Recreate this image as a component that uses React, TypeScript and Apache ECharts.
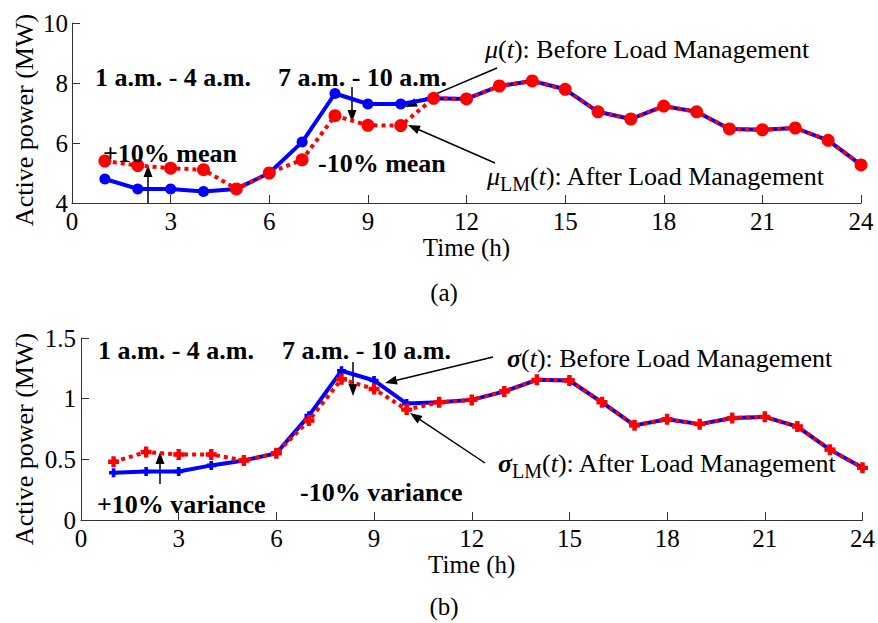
import React, { useEffect, useRef } from "react";
import * as echarts from "echarts";

const hours = [1, 2, 3, 4, 5, 6, 7, 8, 9, 10, 11, 12, 13, 14, 15, 16, 17, 18, 19, 20, 21, 22, 23, 24];
const muBefore = [4.8, 4.47, 4.47, 4.38, 4.47, 5.0, 6.03, 7.65, 7.3, 7.3, 7.49, 7.47, 7.9, 8.07, 7.79, 7.04, 6.8, 7.23, 7.04, 6.47, 6.44, 6.5, 6.09, 5.27];
const muAfter = [5.4, 5.25, 5.16, 5.11, 4.47, 5.0, 5.44, 6.91, 6.59, 6.58, 7.49, 7.47, 7.9, 8.07, 7.79, 7.04, 6.8, 7.23, 7.04, 6.47, 6.44, 6.5, 6.09, 5.27];
const sigmaBefore = [0.39, 0.4, 0.4, 0.45, 0.49, 0.55, 0.86, 1.23, 1.15, 0.96, 0.97, 0.99, 1.06, 1.155, 1.15, 0.97, 0.78, 0.83, 0.79, 0.84, 0.85, 0.77, 0.58, 0.43];
const sigmaAfter = [0.48, 0.56, 0.54, 0.54, 0.49, 0.55, 0.82, 1.16, 1.08, 0.91, 0.97, 0.99, 1.06, 1.155, 1.15, 0.97, 0.78, 0.83, 0.79, 0.84, 0.85, 0.77, 0.58, 0.43];

const xTitle = "Time (h)";
const yTitle = "Active power (MW)";

const FONT = "Liberation Serif";
const PLUS = "path://M3,0H7V3H10V7H7V10H3V7H0V3H3Z";

function pairs(vals: number[]) {
  return hours.map((h, i) => [h, vals[i]]);
}

function arrow(x1: number, y1: number, x2: number, y2: number) {
  const len = Math.hypot(x2 - x1, y2 - y1);
  const ux = (x2 - x1) / len;
  const uy = (y2 - y1) / len;
  const hl = 12;
  const hw = 4.5;
  const bx = x2 - ux * hl;
  const by = y2 - uy * hl;
  return {
    type: "group",
    z: 100,
    children: [
      {
        type: "line",
        shape: { x1, y1, x2: bx, y2: by },
        style: { stroke: "#000", lineWidth: 1.5 },
      },
      {
        type: "polygon",
        shape: {
          points: [
            [x2, y2],
            [bx - uy * hw, by + ux * hw],
            [bx + uy * hw, by - ux * hw],
          ],
        },
        style: { fill: "#000" },
      },
    ],
  };
}

function boldText(text: string, x: number, y: number) {
  return {
    type: "text",
    x,
    y,
    z: 100,
    style: {
      text,
      fontFamily: FONT,
      fontSize: 26,
      fontWeight: "bold",
      fill: "#000",
      align: "left",
      verticalAlign: "middle",
    },
  };
}

function richText(text: string, x: number, y: number, symBold: boolean) {
  const base = { fontFamily: FONT, fontSize: 26, fill: "#000", color: "#000" };
  return {
    type: "text",
    x,
    y,
    z: 100,
    style: {
      text,
      fontFamily: FONT,
      fontSize: 26,
      fill: "#000",
      align: "left",
      verticalAlign: "middle",
      rich: {
        n: { ...base },
        s: { ...base, fontStyle: "italic", fontWeight: symBold ? "bold" : "normal" },
        i: { ...base, fontStyle: "italic" },
        sub: { ...base, fontSize: 20, padding: [16, 0, 0, 0] },
      },
    },
  };
}

function axisCommon() {
  return {
    axisLine: { show: true, lineStyle: { color: "#333", width: 1 } },
    axisTick: { show: true, inside: true, length: 8, lineStyle: { color: "#333" } },
    splitLine: { show: false },
    axisLabel: { color: "#000", fontFamily: FONT, fontSize: 25 },
  };
}

export default function App() {
  const ref = useRef<HTMLDivElement>(null);
  useEffect(() => {
    if (!ref.current) return;
    const chart = echarts.init(ref.current, null, { renderer: "svg" });
    const option: any = {
      animation: false,
      backgroundColor: "#fff",
      textStyle: { fontFamily: FONT },
      grid: [
        { left: 72, top: 23, width: 789, height: 180 },
        { left: 81, top: 338, width: 783, height: 182 },
      ],
      xAxis: [
        {
          gridIndex: 0,
          type: "value",
          min: 0,
          max: 24,
          interval: 3,
          ...axisCommon(),
          axisLabel: { ...axisCommon().axisLabel, margin: 6 },
          name: xTitle,
          nameLocation: "middle",
          nameGap: 32,
          nameTextStyle: { color: "#000", fontFamily: FONT, fontSize: 25 },
        },
        {
          gridIndex: 1,
          type: "value",
          min: 0,
          max: 24,
          interval: 3,
          ...axisCommon(),
          axisLabel: { ...axisCommon().axisLabel, margin: 6 },
          name: xTitle,
          nameLocation: "middle",
          nameGap: 29,
          nameTextStyle: { color: "#000", fontFamily: FONT, fontSize: 25 },
        },
      ],
      yAxis: [
        {
          gridIndex: 0,
          type: "value",
          min: 4,
          max: 10,
          interval: 2,
          ...axisCommon(),
          axisLabel: { ...axisCommon().axisLabel, margin: 4 },
        },
        {
          gridIndex: 1,
          type: "value",
          min: 0,
          max: 1.5,
          interval: 0.5,
          ...axisCommon(),
          axisLabel: { ...axisCommon().axisLabel, margin: 5 },
        },
      ],
      series: [
        {
          name: "μ(t): Before Load Management",
          type: "line",
          xAxisIndex: 0,
          yAxisIndex: 0,
          data: pairs(muBefore),
          lineStyle: { color: "#0000ff", width: 4 },
          itemStyle: { color: "#0000ff" },
          symbol: "circle",
          symbolSize: 11,
          z: 2,
        },
        {
          name: "μLM(t): After Load Management",
          type: "line",
          xAxisIndex: 0,
          yAxisIndex: 0,
          data: pairs(muAfter),
          lineStyle: { color: "#ff0000", width: 4, type: [4, 4], cap: "butt" },
          itemStyle: { color: "#ff0000" },
          symbol: "circle",
          symbolSize: 13,
          z: 3,
        },
        {
          name: "σ(t): Before Load Management",
          type: "line",
          xAxisIndex: 1,
          yAxisIndex: 1,
          data: pairs(sigmaBefore),
          lineStyle: { color: "#0000ff", width: 4 },
          itemStyle: { color: "#0000ff" },
          symbol: PLUS,
          symbolSize: 9,
          z: 2,
        },
        {
          name: "σLM(t): After Load Management",
          type: "line",
          xAxisIndex: 1,
          yAxisIndex: 1,
          data: pairs(sigmaAfter),
          lineStyle: { color: "#ff0000", width: 4, type: [4, 4], cap: "butt" },
          itemStyle: { color: "#ff0000" },
          symbol: PLUS,
          symbolSize: 11,
          z: 3,
        },
      ],
      graphic: [
        {
          type: "text",
          x: 24,
          y: 120,
          rotation: Math.PI / 2,
          style: {
            text: yTitle,
            fontFamily: FONT,
            fontSize: 26,
            fill: "#000",
            align: "center",
            verticalAlign: "middle",
          },
        },
        {
          type: "text",
          x: 24,
          y: 439,
          rotation: Math.PI / 2,
          style: {
            text: yTitle,
            fontFamily: FONT,
            fontSize: 26,
            fill: "#000",
            align: "center",
            verticalAlign: "middle",
          },
        },
        {
          type: "text",
          x: 444,
          y: 292,
          style: { text: "(a)", fontFamily: FONT, fontSize: 25, fill: "#000", align: "center", verticalAlign: "middle" },
        },
        {
          type: "text",
          x: 444,
          y: 606,
          style: { text: "(b)", fontFamily: FONT, fontSize: 25, fill: "#000", align: "center", verticalAlign: "middle" },
        },
        // top annotations
        boldText("1 a.m. - 4 a.m.", 95, 77),
        boldText("7 a.m. - 10 a.m.", 278, 77),
        boldText("+10% mean", 103, 153),
        boldText("-10% mean", 318, 163),
        richText("{s|μ}{n|(}{i|t}{n|): Before Load Management}", 485, 49, false),
        richText("{s|μ}{sub|LM}{n|(}{i|t}{n|): After Load Management}", 487, 176, false),
        arrow(148, 203, 148, 165),
        arrow(352, 87, 352, 122),
        arrow(497, 68, 405, 107),
        arrow(495, 163, 408, 125),
        // bottom annotations
        boldText("1 a.m. - 4 a.m.", 98, 350),
        boldText("7 a.m. - 10 a.m.", 282, 350),
        boldText("+10% variance", 97, 504),
        boldText("-10% variance", 300, 492),
        richText("{s|σ}{n|(}{i|t}{n|): Before Load Management}", 507, 358, true),
        richText("{s|σ}{sub|LM}{n|(}{i|t}{n|): After Load Management}", 498, 463, true),
        arrow(160, 484, 160, 452),
        arrow(353, 362, 353, 396),
        arrow(493, 357, 385, 383),
        arrow(485, 463, 410, 413),
      ],
    };
    chart.setOption(option);
    return () => chart.dispose();
  }, []);
  return (
    <div
      ref={ref}
      style={{ position: "fixed", left: 0, top: 0, width: 878, height: 623, background: "#fff" }}
    />
  );
}
